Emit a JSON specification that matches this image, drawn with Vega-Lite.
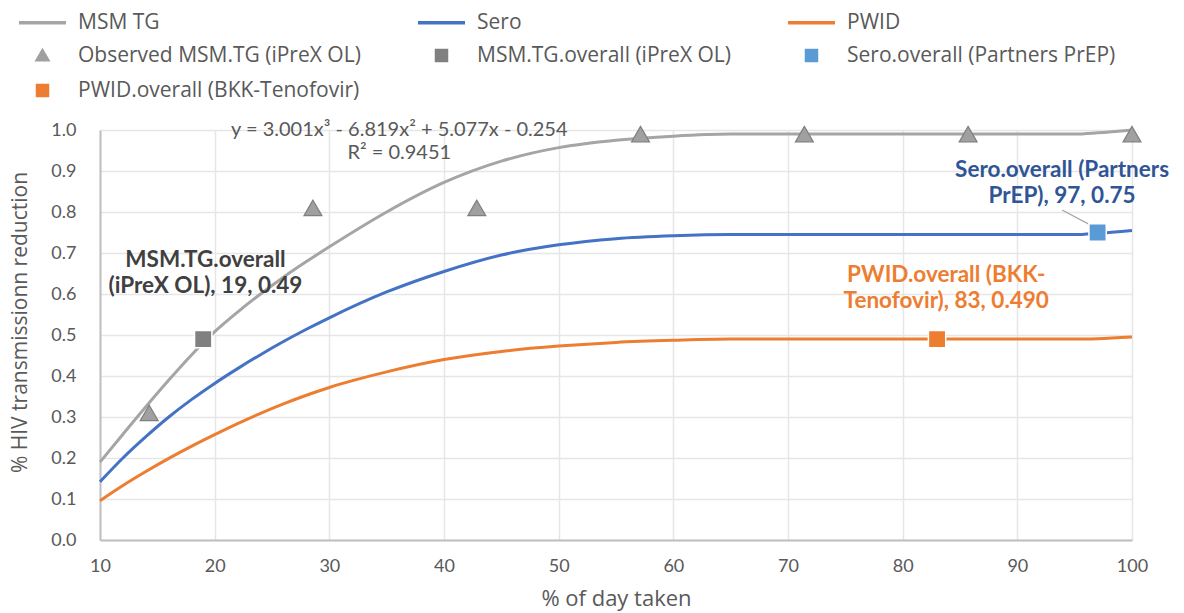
{
  "$schema": "https://vega.github.io/schema/vega-lite/v6.json",
  "width": 1032,
  "height": 410,
  "autosize": {"type": "none"},
  "padding": {"left": 100, "top": 130, "right": 52, "bottom": 73},
  "background": "white",
  "config": {
    "view": {"stroke": null},
    "font": "Lato",
    "axis": {
      "labelFont": "Lato", "labelFontSize": 18, "labelColor": "#595959", "labelFlush": false,
      "titleFont": "Open Sans", "titleFontSize": 21, "titleColor": "#595959", "titleFontWeight": "normal",
      "gridColor": "#e6e6e6", "gridWidth": 1.5, "domainColor": "#bfbfbf", "domainWidth": 2, "ticks": false
    }
  },
  "datasets": {
    "curves": [
      {"s": "MSM TG", "x": 10, "y": 0.19}, {"s": "MSM TG", "x": 12, "y": 0.258}, {"s": "MSM TG", "x": 14, "y": 0.325},
      {"s": "MSM TG", "x": 16, "y": 0.39}, {"s": "MSM TG", "x": 18, "y": 0.452}, {"s": "MSM TG", "x": 20, "y": 0.508},
      {"s": "MSM TG", "x": 22, "y": 0.556}, {"s": "MSM TG", "x": 24, "y": 0.6}, {"s": "MSM TG", "x": 26, "y": 0.641},
      {"s": "MSM TG", "x": 28, "y": 0.679}, {"s": "MSM TG", "x": 30, "y": 0.715}, {"s": "MSM TG", "x": 35, "y": 0.8},
      {"s": "MSM TG", "x": 40, "y": 0.872}, {"s": "MSM TG", "x": 45, "y": 0.924}, {"s": "MSM TG", "x": 50, "y": 0.957},
      {"s": "MSM TG", "x": 55, "y": 0.975}, {"s": "MSM TG", "x": 60, "y": 0.985}, {"s": "MSM TG", "x": 65, "y": 0.99},
      {"s": "MSM TG", "x": 70, "y": 0.99}, {"s": "MSM TG", "x": 80, "y": 0.99}, {"s": "MSM TG", "x": 90, "y": 0.99},
      {"s": "MSM TG", "x": 95, "y": 0.99}, {"s": "MSM TG", "x": 97, "y": 0.993}, {"s": "MSM TG", "x": 100, "y": 1.0},
      {"s": "Sero", "x": 10, "y": 0.142}, {"s": "Sero", "x": 12, "y": 0.2}, {"s": "Sero", "x": 14, "y": 0.252},
      {"s": "Sero", "x": 16, "y": 0.3}, {"s": "Sero", "x": 18, "y": 0.343}, {"s": "Sero", "x": 20, "y": 0.382},
      {"s": "Sero", "x": 22, "y": 0.418}, {"s": "Sero", "x": 24, "y": 0.452}, {"s": "Sero", "x": 26, "y": 0.484},
      {"s": "Sero", "x": 28, "y": 0.514}, {"s": "Sero", "x": 30, "y": 0.542}, {"s": "Sero", "x": 35, "y": 0.605},
      {"s": "Sero", "x": 40, "y": 0.655}, {"s": "Sero", "x": 45, "y": 0.695}, {"s": "Sero", "x": 50, "y": 0.72},
      {"s": "Sero", "x": 55, "y": 0.735}, {"s": "Sero", "x": 60, "y": 0.742}, {"s": "Sero", "x": 65, "y": 0.745},
      {"s": "Sero", "x": 70, "y": 0.745}, {"s": "Sero", "x": 80, "y": 0.745}, {"s": "Sero", "x": 90, "y": 0.745},
      {"s": "Sero", "x": 95, "y": 0.745}, {"s": "Sero", "x": 97, "y": 0.748}, {"s": "Sero", "x": 100, "y": 0.755},
      {"s": "PWID", "x": 10, "y": 0.096}, {"s": "PWID", "x": 12, "y": 0.133}, {"s": "PWID", "x": 14, "y": 0.167},
      {"s": "PWID", "x": 16, "y": 0.199}, {"s": "PWID", "x": 18, "y": 0.229}, {"s": "PWID", "x": 20, "y": 0.257},
      {"s": "PWID", "x": 22, "y": 0.284}, {"s": "PWID", "x": 24, "y": 0.309}, {"s": "PWID", "x": 26, "y": 0.332},
      {"s": "PWID", "x": 28, "y": 0.353}, {"s": "PWID", "x": 30, "y": 0.372}, {"s": "PWID", "x": 35, "y": 0.41},
      {"s": "PWID", "x": 40, "y": 0.44}, {"s": "PWID", "x": 45, "y": 0.46}, {"s": "PWID", "x": 50, "y": 0.473},
      {"s": "PWID", "x": 55, "y": 0.482}, {"s": "PWID", "x": 60, "y": 0.487}, {"s": "PWID", "x": 65, "y": 0.49},
      {"s": "PWID", "x": 70, "y": 0.49}, {"s": "PWID", "x": 80, "y": 0.49}, {"s": "PWID", "x": 90, "y": 0.49},
      {"s": "PWID", "x": 95, "y": 0.49}, {"s": "PWID", "x": 97, "y": 0.491}, {"s": "PWID", "x": 100, "y": 0.495}
    ],
    "observed": [
      {"s": "Observed MSM.TG (iPreX OL)", "x": 14.29, "y": 0.31},
      {"s": "Observed MSM.TG (iPreX OL)", "x": 28.57, "y": 0.81},
      {"s": "Observed MSM.TG (iPreX OL)", "x": 42.86, "y": 0.81},
      {"s": "Observed MSM.TG (iPreX OL)", "x": 57.14, "y": 0.99},
      {"s": "Observed MSM.TG (iPreX OL)", "x": 71.43, "y": 0.99},
      {"s": "Observed MSM.TG (iPreX OL)", "x": 85.71, "y": 0.99},
      {"s": "Observed MSM.TG (iPreX OL)", "x": 100, "y": 0.99}
    ],
    "overall": [
      {"s": "MSM.TG.overall (iPreX OL)", "x": 19, "y": 0.49},
      {"s": "Sero.overall (Partners PrEP)", "x": 97, "y": 0.75},
      {"s": "PWID.overall (BKK-Tenofovir)", "x": 83, "y": 0.49}
    ]
  },
  "layer": [
    {
      "data": {"name": "curves"},
      "mark": {"type": "line", "strokeWidth": 3, "interpolate": "monotone"},
      "encoding": {
        "x": {"field": "x", "type": "quantitative",
              "scale": {"domain": [10, 100], "nice": false, "zero": false},
              "axis": {"values": [10, 20, 30, 40, 50, 60, 70, 80, 90, 100], "title": "% of day taken",
                       "labelPadding": 17, "titlePadding": 13, "titleFontSize": 22}},
        "y": {"field": "y", "type": "quantitative",
              "scale": {"domain": [0, 1], "nice": false},
              "axis": {"values": [0, 0.1, 0.2, 0.3, 0.4, 0.5, 0.6, 0.7, 0.8, 0.9, 1.0], "format": ".1f",
                       "title": "% HIV transmissionn reduction", "labelPadding": 24,
                       "titleX": -80, "titleY": 192, "titleAlign": "center", "titleBaseline": "middle", "titleAngle": 270}},
        "color": {"field": "s", "type": "nominal",
                  "scale": {"domain": ["MSM TG", "Sero", "PWID", "Observed MSM.TG (iPreX OL)", "MSM.TG.overall (iPreX OL)", "Sero.overall (Partners PrEP)", "PWID.overall (BKK-Tenofovir)"],
                            "range": ["#a5a5a5", "#4472c4", "#ed7d31", "#a0a0a0", "#808080", "#5b9bd5", "#ed7d31"]},
                  "legend": {"orient": "none", "direction": "horizontal", "legendX": -68, "legendY": -118, "columns": 3, "columnPadding": 50,
                             "rowPadding": 10, "padding": 0, "title": null, "labelFont": "Open Sans", "labelFontSize": 21,
                             "labelColor": "#595959", "symbolSize": 100, "labelOffset": 25, "labelLimit": 400,
                             "encode": {"symbols": {"update": {
                               "stroke": {"signal": "datum.index < 3 ? scale('color', datum.value) : 'transparent'"},
                               "strokeWidth": {"value": 3.5}}}}}},
        "detail": {"field": "s"}
      }
    },
    {
      "data": {"values": [{"x": 93.9, "y": 0.805, "x2": 96.6, "y2": 0.765}]},
      "mark": {"type": "rule", "color": "#a6a6a6", "strokeWidth": 1.2},
      "encoding": {
        "x": {"field": "x", "type": "quantitative"},
        "y": {"field": "y", "type": "quantitative"},
        "x2": {"field": "x2"},
        "y2": {"field": "y2"}
      }
    },
    {
      "data": {"name": "observed"},
      "mark": {"type": "point", "filled": true, "opacity": 1, "size": 320, "stroke": "#7f7f7f", "strokeWidth": 1.2},
      "encoding": {
        "x": {"field": "x", "type": "quantitative"},
        "y": {"field": "y", "type": "quantitative"},
        "color": {"field": "s", "type": "nominal"},
        "shape": {"field": "s", "type": "nominal",
                  "scale": {"domain": ["MSM TG", "Sero", "PWID", "Observed MSM.TG (iPreX OL)", "MSM.TG.overall (iPreX OL)", "Sero.overall (Partners PrEP)", "PWID.overall (BKK-Tenofovir)"],
                            "range": ["M-4.7,0H4.7", "M-4.7,0H4.7", "M-4.7,0H4.7", "triangle-up", "square", "square", "square"]}}
      }
    },
    {
      "data": {"name": "overall"},
      "mark": {"type": "point", "filled": true, "opacity": 1, "size": 300, "stroke": "white", "strokeWidth": 1.5},
      "encoding": {
        "x": {"field": "x", "type": "quantitative"},
        "y": {"field": "y", "type": "quantitative"},
        "color": {"field": "s", "type": "nominal"},
        "shape": {"field": "s", "type": "nominal"}
      }
    },
    {
      "data": {"values": [{"t": "y = 3.001x³ - 6.819x² + 5.077x - 0.254", "x": 36.1, "y": 1.0}, {"t": "R² = 0.9451", "x": 36.1, "y": 0.945}]},
      "mark": {"type": "text", "font": "Lato", "fontSize": 20, "color": "#595959", "baseline": "middle", "align": "center"},
      "encoding": {
        "x": {"field": "x", "type": "quantitative"},
        "y": {"field": "y", "type": "quantitative"},
        "text": {"field": "t"}
      }
    },
    {
      "data": {"values": [{"t": "MSM.TG.overall\n(iPreX OL), 19, 0.49", "x": 19.2, "y": 0.682}]},
      "mark": {"type": "text", "font": "Lato", "fontSize": 22.5, "fontWeight": "bold", "color": "#404040", "baseline": "middle", "align": "center", "lineBreak": "\n", "lineHeight": 26},
      "encoding": {"x": {"field": "x", "type": "quantitative"}, "y": {"field": "y", "type": "quantitative"}, "text": {"field": "t"}}
    },
    {
      "data": {"values": [{"t": "Sero.overall (Partners\nPrEP), 97, 0.75", "x": 93.9, "y": 0.902}]},
      "mark": {"type": "text", "font": "Lato", "fontSize": 22.5, "fontWeight": "bold", "color": "#2f5597", "baseline": "middle", "align": "center", "lineBreak": "\n", "lineHeight": 26},
      "encoding": {"x": {"field": "x", "type": "quantitative"}, "y": {"field": "y", "type": "quantitative"}, "text": {"field": "t"}}
    },
    {
      "data": {"values": [{"t": "PWID.overall (BKK-\nTenofovir), 83, 0.490", "x": 83.8, "y": 0.647}]},
      "mark": {"type": "text", "font": "Lato", "fontSize": 22.5, "fontWeight": "bold", "color": "#ed7d31", "baseline": "middle", "align": "center", "lineBreak": "\n", "lineHeight": 26},
      "encoding": {"x": {"field": "x", "type": "quantitative"}, "y": {"field": "y", "type": "quantitative"}, "text": {"field": "t"}}
    }
  ]
}
